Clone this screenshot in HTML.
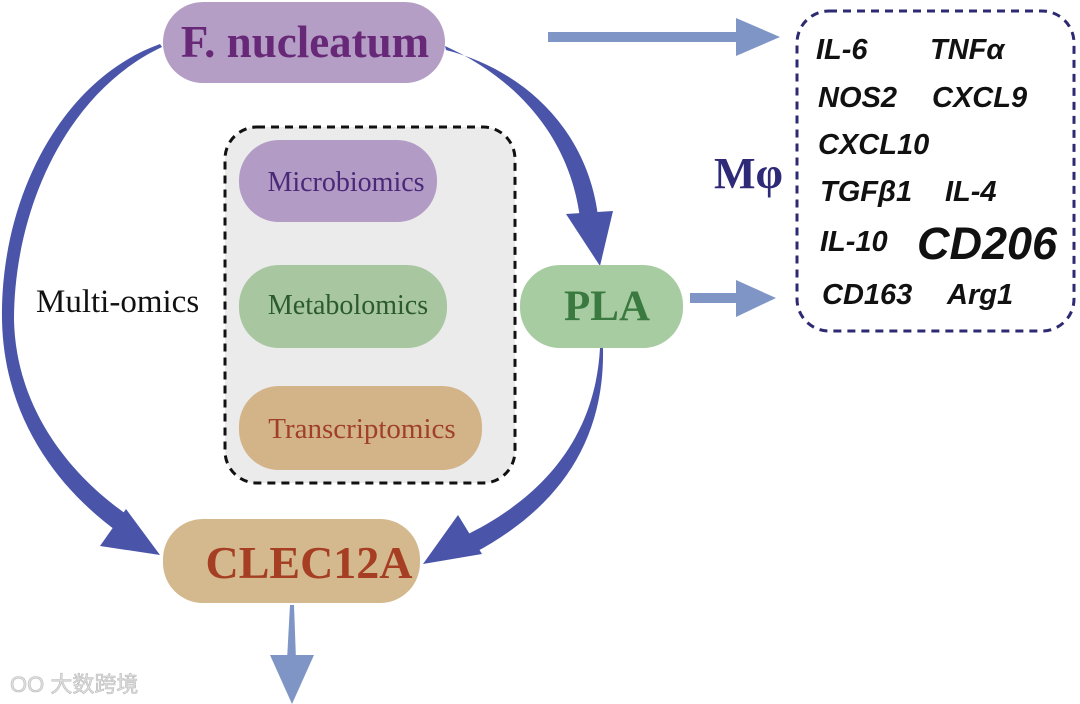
<!DOCTYPE html>
<html><head><meta charset="utf-8"><style>
html,body{margin:0;padding:0;background:#fff;}
svg{display:block;}
</style></head><body>
<svg width="1080" height="704" viewBox="0 0 1080 704" xmlns="http://www.w3.org/2000/svg">
<rect x="225" y="127" width="290" height="356" rx="32" fill="#ebebeb" stroke="#111" stroke-width="3" stroke-dasharray="8,6"/>
<rect x="797" y="11" width="277" height="320" rx="32" fill="none" stroke="#2e2a72" stroke-width="3" stroke-dasharray="8,6"/>

<g fill="#4a55aa">
<path d="M160,44 C60,80 0,200 2,320 C4,420 60,490 118,532 L132,518 C72,478 16,410 14,320 C14,210 66,92 162,47 Z"/>
<polygon points="160,555 100,546 126,509"/>
<path d="M445,46 C520,80 570,140 580,218 L598,216 C588,135 530,72 446,50 Z"/>
<polygon points="600,266 566,214 613,211"/>
<path d="M600,348 C595,440 540,500 462,537 L474,553 C555,510 605,445 603,348 Z"/>
<polygon points="423,564 482,554 458,515"/>
</g>

<g fill="#7f95c6">
<rect x="548" y="32" width="190" height="10"/>
<polygon points="780,37 736,18 736,56"/>
<rect x="690" y="293" width="50" height="10"/>
<polygon points="776,298 736,280 736,317"/>
<polygon points="290,605 294,605 296,660 287,660"/>
<polygon points="292,704 270,655 314,655"/>
</g>

<rect x="163" y="2" width="282" height="81" rx="40" fill="#b49ec5"/>
<text x="305" y="57" text-anchor="middle" font-family="Liberation Serif, serif" font-weight="bold" font-size="45" fill="#682878">F. nucleatum</text>

<rect x="239" y="140" width="198" height="82" rx="40" fill="#b29cc6"/>
<text x="346" y="191" text-anchor="middle" font-family="Liberation Serif, serif" font-size="28" fill="#4a2878">Microbiomics</text>

<rect x="239" y="265" width="208" height="83" rx="40" fill="#a8c7a0"/>
<text x="348" y="314" text-anchor="middle" font-family="Liberation Serif, serif" font-size="28" fill="#2c5a30">Metabolomics</text>

<rect x="239" y="386" width="243" height="84" rx="40" fill="#d3b489"/>
<text x="362" y="438" text-anchor="middle" font-family="Liberation Serif, serif" font-size="29" fill="#a0402a">Transcriptomics</text>

<rect x="520" y="265" width="163" height="83" rx="40" fill="#a8cca1"/>
<text x="607" y="320" text-anchor="middle" font-family="Liberation Serif, serif" font-weight="bold" font-size="43" fill="#3a7a40">PLA</text>

<rect x="163" y="519" width="257" height="84" rx="40" fill="#d4b88e"/>
<text x="309" y="578" text-anchor="middle" font-family="Liberation Serif, serif" font-weight="bold" font-size="46" fill="#a53e22">CLEC12A</text>

<text x="36" y="312" font-family="Liberation Serif, serif" font-size="33" fill="#111">Multi-omics</text>
<text x="714" y="188" font-family="Liberation Serif, serif" font-weight="bold" font-size="44" fill="#2e2a78">Mφ</text>

<g font-family="Liberation Sans, sans-serif" font-weight="bold" font-style="italic" font-size="29" fill="#111">
<text x="816" y="59">IL-6</text>
<text x="930" y="59">TNFα</text>
<text x="818" y="107">NOS2</text>
<text x="932" y="107">CXCL9</text>
<text x="818" y="154">CXCL10</text>
<text x="820" y="201">TGFβ1</text>
<text x="945" y="201">IL-4</text>
<text x="820" y="251">IL-10</text>
<text x="917" y="259" font-size="45">CD206</text>
<text x="822" y="304">CD163</text>
<text x="947" y="304">Arg1</text>
</g>

<text x="10" y="692" font-family="Liberation Sans, 'Noto Sans CJK SC', sans-serif" font-size="22" fill="#e0e0e0" stroke="#bbb" stroke-width="0.6">OO 大数跨境</text>
</svg>
</body></html>
